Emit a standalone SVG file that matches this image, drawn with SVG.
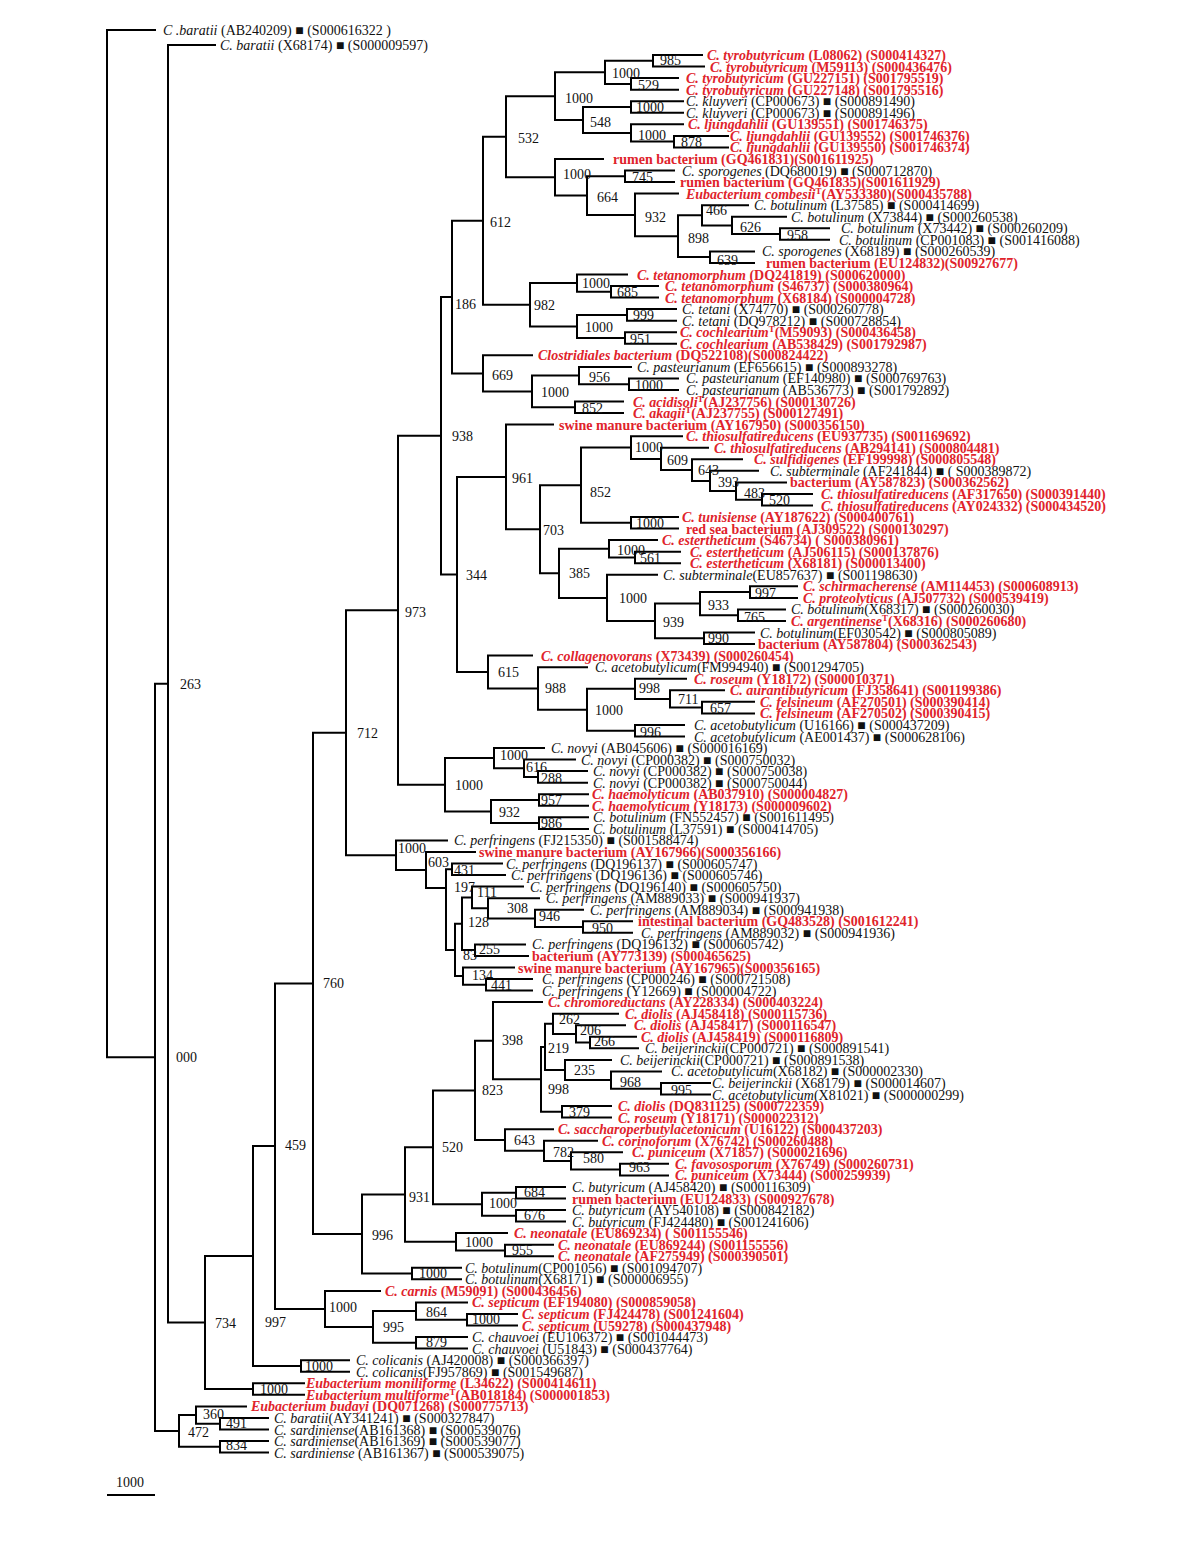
<svg xmlns="http://www.w3.org/2000/svg" width="1200" height="1553" viewBox="0 0 1200 1553">
<style>
text{font-family:"Liberation Serif","Times New Roman",serif;font-size:14px}
.k{fill:#111}
.r{fill:#e0232b;font-weight:bold}
.i{font-style:italic}
.s{font-size:9px}
.bs text{fill:#111}
</style>
<rect width="1200" height="1553" fill="#fff"/>
<g id="connectors" fill="none" stroke="#000" stroke-width="2" stroke-linecap="square">
<path d="M107,30V1057.3M107,30H155M107,1057.3H155"/>
<path d="M155,683.8V1430.9M155,683.8H168M155,1430.9H179"/>
<path d="M168,45V1322.5M168,45H215M168,1322.5H205"/>
<path d="M205,1256V1389M205,1256H253M205,1389H253"/>
<path d="M253,1146.1V1365.9M253,1146.1H275M253,1365.9H301"/>
<path d="M253,1383.3V1394.8M253,1383.3H304M253,1394.8H304"/>
<path d="M301,1360.2V1371.7M301,1360.2H349M301,1371.7H349"/>
<path d="M275,983.4V1308.9M275,983.4H313M275,1308.9H325"/>
<path d="M325,1290.9V1326.9M325,1290.9H380M325,1326.9H373"/>
<path d="M373,1311.1V1342.8M373,1311.1H416M373,1342.8H416"/>
<path d="M416,1302.4V1319.7M416,1302.4H467M416,1319.7H467"/>
<path d="M467,1314V1325.5M467,1314H517M467,1325.5H517"/>
<path d="M416,1337.1V1348.6M416,1337.1H467M416,1348.6H467"/>
<path d="M313,732.7V1234M313,732.7H346M313,1234H362"/>
<path d="M362,1194.5V1273.5M362,1194.5H405M362,1273.5H412"/>
<path d="M412,1267.8V1279.3M412,1267.8H461M412,1279.3H461"/>
<path d="M405,1147.3V1241.8M405,1147.3H433M405,1241.8H456"/>
<path d="M456,1233.1V1250.4M456,1233.1H507M456,1250.4H505"/>
<path d="M505,1244.7V1256.2M505,1244.7H553M505,1256.2H553"/>
<path d="M433,1090.4V1204.2M433,1090.4H475M433,1204.2H482"/>
<path d="M482,1192.7V1215.8M482,1192.7H516M482,1215.8H516"/>
<path d="M516,1186.9V1198.5M516,1186.9H565M516,1198.5H565"/>
<path d="M516,1210V1221.6M516,1210H565M516,1221.6H565"/>
<path d="M475,1040.7V1140M475,1040.7H493M475,1140H505"/>
<path d="M493,1002.1V1079.3M493,1002.1H542M493,1079.3H541"/>
<path d="M541,1046.9V1111.8M541,1046.9H545M541,1111.8H562"/>
<path d="M545,1023.8V1070M545,1023.8H553M545,1070H565"/>
<path d="M553,1013.7V1033.9M553,1013.7H618M553,1033.9H576"/>
<path d="M576,1025.2V1042.5M576,1025.2H625M576,1042.5H590"/>
<path d="M590,1036.8V1048.3M590,1036.8H636M590,1048.3H638"/>
<path d="M565,1059.9V1080.1M565,1059.9H611M565,1080.1H611"/>
<path d="M611,1071.4V1088.7M611,1071.4H661M611,1088.7H661"/>
<path d="M661,1083V1094.5M661,1083H710M661,1094.5H710"/>
<path d="M562,1106.1V1117.6M562,1106.1H611M562,1117.6H611"/>
<path d="M505,1129.2V1150.8M505,1129.2H553M505,1150.8H544"/>
<path d="M544,1140.7V1160.9M544,1140.7H597M544,1160.9H571"/>
<path d="M571,1152.3V1169.6M571,1152.3H622M571,1169.6H620"/>
<path d="M620,1163.8V1175.4M620,1163.8H668M620,1175.4H668"/>
<path d="M346,610.3V855.2M346,610.3H398M346,855.2H396"/>
<path d="M396,840.4V870M396,840.4H447M396,870H426"/>
<path d="M426,852V888M426,852H475M426,888H446"/>
<path d="M446,869.3V950M446,869.3H452M446,950H455"/>
<path d="M452,863.5V875.1M452,863.5H502M452,875.1H505"/>
<path d="M455,923.8V976.1M455,923.8H462M455,976.1H463"/>
<path d="M462,897.4V950.1M462,897.4H472M462,950.1H475"/>
<path d="M472,886.6V908.3M472,886.6H523M472,908.3H488"/>
<path d="M488,898.2V918.4M488,898.2H539M488,918.4H535"/>
<path d="M535,909.7V927M535,909.7H583M535,927H583"/>
<path d="M583,921.3V932.8M583,921.3H632M583,932.8H632"/>
<path d="M475,944.4V955.9M475,944.4H525M475,955.9H528"/>
<path d="M463,967.5V984.8M463,967.5H514M463,984.8H486"/>
<path d="M486,979V990.6M486,979H532M486,990.6H532"/>
<path d="M398,435.8V784.8M398,435.8H441M398,784.8H445"/>
<path d="M445,758.1V811.5M445,758.1H494M445,811.5H491"/>
<path d="M494,748V768.2M494,748H544M494,768.2H524"/>
<path d="M524,759.6V776.9M524,759.6H575M524,776.9H538"/>
<path d="M538,771.1V782.7M538,771.1H587M538,782.7H587"/>
<path d="M491,800V823.1M491,800H539M491,823.1H539"/>
<path d="M539,794.2V805.8M539,794.2H588M539,805.8H588"/>
<path d="M539,817.3V828.9M539,817.3H588M539,828.9H588"/>
<path d="M441,297V574.5M441,297H452M441,574.5H457"/>
<path d="M452,220.7V373.4M452,220.7H483M452,373.4H483"/>
<path d="M483,136.7V304.8M483,136.7H506M483,304.8H530"/>
<path d="M506,96.2V177.3M506,96.2H555M506,177.3H555"/>
<path d="M555,72.3V120M555,72.3H605M555,120H583"/>
<path d="M605,60.8V83.9M605,60.8H653M605,83.9H631"/>
<path d="M653,55V66.6M653,55H702M653,66.6H704"/>
<path d="M631,78.1V89.7M631,78.1H678M631,89.7H678"/>
<path d="M583,107V133M583,107H631M583,133H631"/>
<path d="M631,101.2V112.8M631,101.2H683M631,112.8H683"/>
<path d="M631,124.3V141.6M631,124.3H683M631,141.6H674"/>
<path d="M674,135.9V147.4M674,135.9H728M674,147.4H728"/>
<path d="M555,159V195.6M555,159H603M555,195.6H587"/>
<path d="M587,176.3V214.9M587,176.3H625M587,214.9H635"/>
<path d="M625,170.5V182.1M625,170.5H674M625,182.1H674"/>
<path d="M635,193.6V236.2M635,193.6H678M635,236.2H678"/>
<path d="M678,215.3V257.1M678,215.3H702M678,257.1H710"/>
<path d="M702,205.2V225.4M702,205.2H748M702,225.4H732"/>
<path d="M732,216.7V234M732,216.7H786M732,234H780"/>
<path d="M780,228.3V239.8M780,228.3H829M780,239.8H829"/>
<path d="M710,251.4V262.9M710,251.4H754M710,262.9H754"/>
<path d="M530,283.1V326.4M530,283.1H577M530,326.4H577"/>
<path d="M577,274.5V291.8M577,274.5H627M577,291.8H611"/>
<path d="M611,286V297.6M611,286H658M611,297.6H658"/>
<path d="M577,314.9V338M577,314.9H627M577,338H625"/>
<path d="M627,309.1V320.7M627,309.1H676M627,320.7H676"/>
<path d="M625,332.2V343.8M625,332.2H676M625,343.8H676"/>
<path d="M483,355.3V391.4M483,355.3H532M483,391.4H532"/>
<path d="M532,375.5V407.3M532,375.5H579M532,407.3H575"/>
<path d="M579,366.9V384.2M579,366.9H631M579,384.2H629"/>
<path d="M629,378.4V390M629,378.4H678M629,390H678"/>
<path d="M575,401.5V413.1M575,401.5H623M575,413.1H623"/>
<path d="M457,476.9V672M457,476.9H506M457,672H488"/>
<path d="M506,424.6V529.2M506,424.6H553M506,529.2H540"/>
<path d="M540,485.2V573.3M540,485.2H581M540,573.3H559"/>
<path d="M581,447.5V522.8M581,447.5H631M581,522.8H631"/>
<path d="M631,436.2V458.9M631,436.2H682M631,458.9H661"/>
<path d="M661,447.7V470.1M661,447.7H708M661,470.1H692"/>
<path d="M692,459.3V480.9M692,459.3H742M692,480.9H710"/>
<path d="M710,470.8V491M710,470.8H758M710,491H736"/>
<path d="M736,482.4V499.7M736,482.4H786M736,499.7H762"/>
<path d="M762,493.9V505.5M762,493.9H812M762,505.5H812"/>
<path d="M631,517V528.6M631,517H678M631,528.6H678"/>
<path d="M559,548.8V597.9M559,548.8H609M559,597.9H607"/>
<path d="M609,540.1V557.4M609,540.1H657M609,557.4H635"/>
<path d="M635,551.7V563.2M635,551.7H680M635,563.2H680"/>
<path d="M607,574.8V621M607,574.8H657M607,621H655"/>
<path d="M655,603.6V638.3M655,603.6H700M655,638.3H704"/>
<path d="M700,592.1V615.2M700,592.1H750M700,615.2H738"/>
<path d="M750,586.3V597.9M750,586.3H797M750,597.9H797"/>
<path d="M738,609.4V621M738,609.4H785M738,621H785"/>
<path d="M704,632.5V644.1M704,632.5H754M704,644.1H754"/>
<path d="M488,655.6V688.4M488,655.6H532M488,688.4H538"/>
<path d="M538,667.2V709.7M538,667.2H587M538,709.7H587"/>
<path d="M587,688.8V730.7M587,688.8H635M587,730.7H635"/>
<path d="M635,678.7V698.9M635,678.7H686M635,698.9H670"/>
<path d="M670,690.3V707.6M670,690.3H724M670,707.6H702"/>
<path d="M702,701.8V713.4M702,701.8H754M702,713.4H754"/>
<path d="M635,724.9V736.5M635,724.9H684M635,736.5H684"/>
<path d="M179,1415V1446.8M179,1415H196M179,1446.8H220"/>
<path d="M196,1406.4V1423.7M196,1406.4H246M196,1423.7H220"/>
<path d="M220,1417.9V1429.5M220,1417.9H268M220,1429.5H268"/>
<path d="M220,1441V1452.6M220,1441H268M220,1452.6H268"/>
</g>
<g id="support-values" class="bs">
<text x="180" y="689">263</text><text x="176" y="1062">000</text><text x="215" y="1328">734</text><text x="265" y="1327">997</text>
<text x="260" y="1394">1000</text><text x="305" y="1371">1000</text><text x="329" y="1312">1000</text><text x="383" y="1332">995</text>
<text x="426" y="1317">864</text><text x="472" y="1324">1000</text><text x="426" y="1347">879</text><text x="188" y="1437">472</text>
<text x="203" y="1419">360</text><text x="226" y="1428">491</text><text x="226" y="1450">834</text><text x="285" y="1150">459</text>
<text x="323" y="988">760</text><text x="372" y="1240">996</text><text x="419" y="1278">1000</text><text x="409" y="1202">931</text>
<text x="442" y="1152">520</text><text x="489" y="1208">1000</text><text x="524" y="1197">684</text><text x="524" y="1220">676</text>
<text x="465" y="1247">1000</text><text x="512" y="1255">955</text><text x="482" y="1095">823</text><text x="502" y="1045">398</text>
<text x="548" y="1094">998</text><text x="548" y="1053">219</text><text x="559" y="1024">262</text><text x="580" y="1035">206</text>
<text x="594" y="1046">266</text><text x="574" y="1075">235</text><text x="620" y="1087">968</text><text x="671" y="1095">995</text>
<text x="569" y="1117">379</text><text x="514" y="1145">643</text><text x="553" y="1157">782</text><text x="583" y="1163">580</text>
<text x="629" y="1172">963</text><text x="357" y="738">712</text><text x="398" y="853">1000</text><text x="428" y="867">603</text>
<text x="454" y="875">431</text><text x="454" y="892">197</text><text x="477" y="897">111</text><text x="507" y="913">308</text>
<text x="539" y="921">946</text><text x="468" y="927">128</text><text x="592" y="933">950</text><text x="479" y="954">255</text>
<text x="463" y="960">83</text><text x="472" y="980">134</text><text x="491" y="990">441</text><text x="405" y="617">973</text>
<text x="455" y="790">1000</text><text x="500" y="760">1000</text><text x="526" y="772">616</text><text x="541" y="783">288</text>
<text x="499" y="817">932</text><text x="541" y="805">957</text><text x="541" y="828">986</text><text x="452" y="441">938</text>
<text x="455" y="309">186</text><text x="490" y="227">612</text><text x="518" y="143">532</text><text x="565" y="103">1000</text>
<text x="612" y="78">1000</text><text x="660" y="65">985</text><text x="638" y="90">529</text><text x="590" y="127">548</text>
<text x="636" y="112">1000</text><text x="638" y="140">1000</text><text x="681" y="147">878</text><text x="563" y="179">1000</text>
<text x="597" y="202">664</text><text x="632" y="182">745</text><text x="645" y="222">932</text><text x="688" y="243">898</text>
<text x="706" y="215">466</text><text x="740" y="232">626</text><text x="787" y="240">958</text><text x="717" y="265">639</text>
<text x="534" y="310">982</text><text x="582" y="288">1000</text><text x="617" y="297">685</text><text x="585" y="332">1000</text>
<text x="633" y="320">999</text><text x="630" y="344">951</text><text x="492" y="380">669</text><text x="541" y="397">1000</text>
<text x="589" y="382">956</text><text x="635" y="390">1000</text><text x="582" y="413">852</text><text x="466" y="580">344</text>
<text x="512" y="483">961</text><text x="543" y="535">703</text><text x="590" y="497">852</text><text x="635" y="452">1000</text>
<text x="667" y="465">609</text><text x="698" y="475">643</text><text x="718" y="487">393</text><text x="744" y="498">483</text>
<text x="769" y="505">520</text><text x="636" y="528">1000</text><text x="569" y="578">385</text><text x="617" y="555">1000</text>
<text x="640" y="563">561</text><text x="619" y="603">1000</text><text x="663" y="627">939</text><text x="708" y="610">933</text>
<text x="755" y="598">997</text><text x="744" y="622">765</text><text x="708" y="643">990</text><text x="498" y="677">615</text>
<text x="545" y="693">988</text><text x="595" y="715">1000</text><text x="639" y="693">998</text><text x="678" y="704">711</text>
<text x="710" y="713">657</text><text x="640" y="737">996</text>
</g>
<g id="leaves">
<g id="leaf-1"><text class="k" x="163" y="35"><tspan class="i">C .baratii</tspan> (AB240209) ■ (S000616322 )</text></g>
<g id="leaf-2"><text class="k" x="220" y="50"><tspan class="i">C. baratii</tspan> (X68174) ■ (S000009597)</text></g>
<g id="leaf-3"><text class="r" x="707" y="60"><tspan class="i">C. tyrobutyricum</tspan> (L08062) (S000414327)</text></g>
<g id="leaf-4"><text class="r" x="710" y="71.6"><tspan class="i">C. tyrobutyricum</tspan>  (M59113) (S000436476)</text></g>
<g id="leaf-5"><text class="r" x="686" y="83.1"><tspan class="i">C. tyrobutyricum</tspan> (GU227151) (S001795519)</text></g>
<g id="leaf-6"><text class="r" x="686" y="94.7"><tspan class="i">C. tyrobutyricum</tspan> (GU227148) (S001795516)</text></g>
<g id="leaf-7"><text class="k" x="686" y="106.2"><tspan class="i">C. kluyveri</tspan> (CP000673) ■ (S000891490)</text></g>
<g id="leaf-8"><text class="k" x="686" y="117.8"><tspan class="i">C. kluyveri</tspan> (CP000673) ■ (S000891496)</text></g>
<g id="leaf-9"><text class="r" x="688" y="129.3"><tspan class="i">C. ljungdahlii</tspan> (GU139551) (S001746375)</text></g>
<g id="leaf-10"><text class="r" x="730" y="140.9"><tspan class="i">C. ljungdahlii</tspan> (GU139552) (S001746376)</text></g>
<g id="leaf-11"><text class="r" x="730" y="152.4"><tspan class="i">C. ljungdahlii</tspan> (GU139550) (S001746374)</text></g>
<g id="leaf-12"><text class="r" x="613" y="164">rumen bacterium (GQ461831)(S001611925)</text></g>
<g id="leaf-13"><text class="k" x="682" y="175.5"><tspan class="i">C. sporogenes</tspan> (DQ680019) ■ (S000712870)</text></g>
<g id="leaf-14"><text class="r" x="680" y="187.1">rumen bacterium (GQ461835)(S001611929)</text></g>
<g id="leaf-15"><text class="r" x="686" y="198.6"><tspan class="i">Eubacterium combesii</tspan><tspan class="s" dy="-5">T</tspan><tspan dy="5">(AY533380)(S000435788)</tspan></text></g>
<g id="leaf-16"><text class="k" x="754" y="210.2"><tspan class="i">C. botulinum</tspan> (L37585) ■ (S000414699)</text></g>
<g id="leaf-17"><text class="k" x="791" y="221.7"><tspan class="i">C. botulinum</tspan> (X73844) ■ (S000260538)</text></g>
<g id="leaf-18"><text class="k" x="841" y="233.3"><tspan class="i">C. botulinum</tspan> (X73442) ■ (S000260209)</text></g>
<g id="leaf-19"><text class="k" x="839" y="244.8"><tspan class="i">C. botulinum</tspan> (CP001083) ■ (S001416088)</text></g>
<g id="leaf-20"><text class="k" x="762" y="256.4"><tspan class="i">C. sporogenes</tspan> (X68189) ■ (S000260539)</text></g>
<g id="leaf-21"><text class="r" x="766" y="267.9">rumen bacterium (EU124832)(S00927677)</text></g>
<g id="leaf-22"><text class="r" x="637" y="279.5"><tspan class="i">C. tetanomorphum</tspan> (DQ241819) (S000620000)</text></g>
<g id="leaf-23"><text class="r" x="665" y="291"><tspan class="i">C. tetanomorphum</tspan> (S46737) (S000380964)</text></g>
<g id="leaf-24"><text class="r" x="665" y="302.6"><tspan class="i">C. tetanomorphum</tspan> (X68184) (S000004728)</text></g>
<g id="leaf-25"><text class="k" x="682" y="314.1"><tspan class="i">C. tetani</tspan> (X74770) ■ (S000260778)</text></g>
<g id="leaf-26"><text class="k" x="682" y="325.7"><tspan class="i">C. tetani</tspan> (DQ978212) ■ (S000728854)</text></g>
<g id="leaf-27"><text class="r" x="680" y="337.2"><tspan class="i">C. cochlearium</tspan><tspan class="s" dy="-5">T</tspan><tspan dy="5">(M59093) (S000436458)</tspan></text></g>
<g id="leaf-28"><text class="r" x="680" y="348.8"><tspan class="i">C. cochlearium</tspan> (AB538429) (S001792987)</text></g>
<g id="leaf-29"><text class="r" x="538" y="360.3"><tspan class="i">Clostridiales bacterium</tspan> (DQ522108)(S000824422)</text></g>
<g id="leaf-30"><text class="k" x="637" y="371.9"><tspan class="i">C. pasteurianum</tspan> (EF656615) ■ (S000893278)</text></g>
<g id="leaf-31"><text class="k" x="686" y="383.4"><tspan class="i">C. pasteurianum</tspan> (EF140980) ■ (S000769763)</text></g>
<g id="leaf-32"><text class="k" x="686" y="395"><tspan class="i">C. pasteurianum</tspan> (AB536773) ■ (S001792892)</text></g>
<g id="leaf-33"><text class="r" x="633" y="406.5"><tspan class="i">C. acidisoli</tspan><tspan class="s" dy="-5">T</tspan><tspan dy="5">(AJ237756) (S000130726)</tspan></text></g>
<g id="leaf-34"><text class="r" x="633" y="418.1"><tspan class="i">C. akagii</tspan><tspan class="s" dy="-5">T</tspan><tspan dy="5">(AJ237755) (S000127491)</tspan></text></g>
<g id="leaf-35"><text class="r" x="559" y="429.6">swine manure bacterium (AY167950) (S000356150)</text></g>
<g id="leaf-36"><text class="r" x="686" y="441.2"><tspan class="i">C. thiosulfatireducens</tspan> (EU937735) (S001169692)</text></g>
<g id="leaf-37"><text class="r" x="714" y="452.7"><tspan class="i">C. thiosulfatireducens</tspan> (AB294141) (S000804481)</text></g>
<g id="leaf-38"><text class="r" x="754" y="464.3"><tspan class="i">C. sulfidigenes</tspan> (EF199998) (S000805548)</text></g>
<g id="leaf-39"><text class="k" x="770" y="475.8"><tspan class="i">C. subterminale</tspan> (AF241844) ■ ( S000389872)</text></g>
<g id="leaf-40"><text class="r" x="790" y="487.4">bacterium (AY587823) (S000362562)</text></g>
<g id="leaf-41"><text class="r" x="821" y="498.9"><tspan class="i">C. thiosulfatireducens</tspan> (AF317650) (S000391440)</text></g>
<g id="leaf-42"><text class="r" x="821" y="510.5"><tspan class="i">C. thiosulfatireducens</tspan>  (AY024332) (S000434520)</text></g>
<g id="leaf-43"><text class="r" x="682" y="522"><tspan class="i">C. tunisiense</tspan> (AY187622) (S000400761)</text></g>
<g id="leaf-44"><text class="r" x="686" y="533.6">red sea bacterium (AJ309522) (S000130297)</text></g>
<g id="leaf-45"><text class="r" x="662" y="545.1"><tspan class="i">C. estertheticum</tspan> (S46734) ( S000380961)</text></g>
<g id="leaf-46"><text class="r" x="690" y="556.7"><tspan class="i">C. estertheticum</tspan>  (AJ506115) (S000137876)</text></g>
<g id="leaf-47"><text class="r" x="690" y="568.2"><tspan class="i">C. estertheticum</tspan> (X68181) (S000013400)</text></g>
<g id="leaf-48"><text class="k" x="663" y="579.8"><tspan class="i">C. subterminale</tspan>(EU857637) ■ (S001198630)</text></g>
<g id="leaf-49"><text class="r" x="803" y="591.3"><tspan class="i">C. schirmacherense</tspan>  (AM114453) (S000608913)</text></g>
<g id="leaf-50"><text class="r" x="803" y="602.9"><tspan class="i">C. proteolyticus</tspan> (AJ507732) (S000539419)</text></g>
<g id="leaf-51"><text class="k" x="791" y="614.4"><tspan class="i">C. botulinum</tspan>(X68317) ■ (S000260030)</text></g>
<g id="leaf-52"><text class="r" x="791" y="626"><tspan class="i">C. argentinense</tspan><tspan class="s" dy="-5">T</tspan><tspan dy="5">(X68316) (S000260680)</tspan></text></g>
<g id="leaf-53"><text class="k" x="760" y="637.5"><tspan class="i">C. botulinum</tspan>(EF030542) ■ (S000805089)</text></g>
<g id="leaf-54"><text class="r" x="758" y="649.1">bacterium (AY587804) (S000362543)</text></g>
<g id="leaf-55"><text class="r" x="541" y="660.6"><tspan class="i">C. collagenovorans</tspan> (X73439) (S000260454)</text></g>
<g id="leaf-56"><text class="k" x="595" y="672.2"><tspan class="i">C. acetobutylicum</tspan>(FM994940) ■ (S001294705)</text></g>
<g id="leaf-57"><text class="r" x="694" y="683.7"><tspan class="i">C. roseum</tspan> (Y18172) (S000010371)</text></g>
<g id="leaf-58"><text class="r" x="730" y="695.3"><tspan class="i">C. aurantibutyricum</tspan> (FJ358641) (S001199386)</text></g>
<g id="leaf-59"><text class="r" x="760" y="706.8"><tspan class="i">C. felsineum</tspan> (AF270501) (S000390414)</text></g>
<g id="leaf-60"><text class="r" x="760" y="718.4"><tspan class="i">C. felsineum</tspan> (AF270502) (S000390415)</text></g>
<g id="leaf-61"><text class="k" x="694" y="729.9"><tspan class="i">C. acetobutylicum</tspan> (U16166) ■ (S000437209)</text></g>
<g id="leaf-62"><text class="k" x="694" y="741.5"><tspan class="i">C. acetobutylicum</tspan> (AE001437) ■ (S000628106)</text></g>
<g id="leaf-63"><text class="k" x="551" y="753"><tspan class="i">C. novyi</tspan> (AB045606) ■ (S000016169)</text></g>
<g id="leaf-64"><text class="k" x="581" y="764.6"><tspan class="i">C. novyi</tspan> (CP000382) ■ (S000750032)</text></g>
<g id="leaf-65"><text class="k" x="593" y="776.1"><tspan class="i">C. novyi</tspan> (CP000382) ■ (S000750038)</text></g>
<g id="leaf-66"><text class="k" x="593" y="787.7"><tspan class="i">C. novyi</tspan> (CP000382) ■ (S000750044)</text></g>
<g id="leaf-67"><text class="r" x="592" y="799.2"><tspan class="i">C. haemolyticum</tspan> (AB037910) (S000004827)</text></g>
<g id="leaf-68"><text class="r" x="592" y="810.8"><tspan class="i">C. haemolyticum</tspan> (Y18173) (S000009602)</text></g>
<g id="leaf-69"><text class="k" x="593" y="822.3"><tspan class="i">C. botulinum</tspan> (FN552457) ■ (S001611495)</text></g>
<g id="leaf-70"><text class="k" x="593" y="833.9"><tspan class="i">C. botulinum</tspan> (L37591) ■ (S000414705)</text></g>
<g id="leaf-71"><text class="k" x="454" y="845.4"><tspan class="i">C. perfringens</tspan> (FJ215350) ■ (S001588474)</text></g>
<g id="leaf-72"><text class="r" x="479" y="857">swine manure bacterium (AY167966)(S000356166)</text></g>
<g id="leaf-73"><text class="k" x="506" y="868.5"><tspan class="i">C. perfringens</tspan> (DQ196137) ■ (S000605747)</text></g>
<g id="leaf-74"><text class="k" x="511" y="880.1"><tspan class="i">C. perfringens</tspan> (DQ196136) ■ (S000605746)</text></g>
<g id="leaf-75"><text class="k" x="530" y="891.6"><tspan class="i">C. perfringens</tspan> (DQ196140) ■ (S000605750)</text></g>
<g id="leaf-76"><text class="k" x="546" y="903.2"><tspan class="i">C. perfringens</tspan> (AM889033) ■ (S000941937)</text></g>
<g id="leaf-77"><text class="k" x="590" y="914.7"><tspan class="i">C. perfringens</tspan> (AM889034) ■ (S000941938)</text></g>
<g id="leaf-78"><text class="r" x="638" y="926.3">intestinal bacterium (GQ483528) (S001612241)</text></g>
<g id="leaf-79"><text class="k" x="641" y="937.8"><tspan class="i">C. perfringens</tspan> (AM889032) ■ (S000941936)</text></g>
<g id="leaf-80"><text class="k" x="532" y="949.4"><tspan class="i">C. perfringens</tspan> (DQ196132) ■ (S000605742)</text></g>
<g id="leaf-81"><text class="r" x="532" y="960.9">bacterium (AY773139) (S000465625)</text></g>
<g id="leaf-82"><text class="r" x="518" y="972.5">swine manure bacterium (AY167965)(S000356165)</text></g>
<g id="leaf-83"><text class="k" x="542" y="984"><tspan class="i">C. perfringens</tspan> (CP000246) ■ (S000721508)</text></g>
<g id="leaf-84"><text class="k" x="542" y="995.6"><tspan class="i">C. perfringens</tspan> (Y12669) ■ (S000004722)</text></g>
<g id="leaf-85"><text class="r" x="548" y="1007.1"><tspan class="i">C. chromoreductans</tspan> (AY228334) (S000403224)</text></g>
<g id="leaf-86"><text class="r" x="625" y="1018.7"><tspan class="i">C. diolis</tspan>  (AJ458418) (S000115736)</text></g>
<g id="leaf-87"><text class="r" x="634" y="1030.2"><tspan class="i">C. diolis</tspan> (AJ458417) (S000116547)</text></g>
<g id="leaf-88"><text class="r" x="641" y="1041.8"><tspan class="i">C. diolis</tspan> (AJ458419) (S000116809)</text></g>
<g id="leaf-89"><text class="k" x="645" y="1053.3"><tspan class="i">C. beijerinckii</tspan>(CP000721) ■ (S000891541)</text></g>
<g id="leaf-90"><text class="k" x="620" y="1064.9"><tspan class="i">C. beijerinckii</tspan>(CP000721) ■ (S000891538)</text></g>
<g id="leaf-91"><text class="k" x="671" y="1076.4"><tspan class="i">C. acetobutylicum</tspan>(X68182) ■ (S000002330)</text></g>
<g id="leaf-92"><text class="k" x="712" y="1088"><tspan class="i">C. beijerinckii</tspan> (X68179) ■ (S000014607)</text></g>
<g id="leaf-93"><text class="k" x="712" y="1099.5"><tspan class="i">C. acetobutylicum</tspan>(X81021) ■  (S000000299)</text></g>
<g id="leaf-94"><text class="r" x="618" y="1111.1"><tspan class="i">C. diolis</tspan> (DQ831125) (S000722359)</text></g>
<g id="leaf-95"><text class="r" x="618" y="1122.6"><tspan class="i">C. roseum</tspan>  (Y18171) (S000022312)</text></g>
<g id="leaf-96"><text class="r" x="558" y="1134.2"><tspan class="i">C. saccharoperbutylacetonicum</tspan>  (U16122) (S000437203)</text></g>
<g id="leaf-97"><text class="r" x="602" y="1145.7"><tspan class="i">C. corinoforum</tspan> (X76742) (S000260488)</text></g>
<g id="leaf-98"><text class="r" x="632" y="1157.3"><tspan class="i">C. puniceum</tspan>  (X71857) (S000021696)</text></g>
<g id="leaf-99"><text class="r" x="675" y="1168.8"><tspan class="i">C. favososporum</tspan> (X76749) (S000260731)</text></g>
<g id="leaf-100"><text class="r" x="675" y="1180.4"><tspan class="i">C. puniceum</tspan> (X73444) (S000259939)</text></g>
<g id="leaf-101"><text class="k" x="572" y="1191.9"><tspan class="i">C. butyricum</tspan>  (AJ458420) ■ (S000116309)</text></g>
<g id="leaf-102"><text class="r" x="572" y="1203.5">rumen bacterium (EU124833) (S000927678)</text></g>
<g id="leaf-103"><text class="k" x="572" y="1215"><tspan class="i">C. butyricum</tspan> (AY540108) ■ (S000842182)</text></g>
<g id="leaf-104"><text class="k" x="572" y="1226.6"><tspan class="i">C. butyricum</tspan> (FJ424480) ■ (S001241606)</text></g>
<g id="leaf-105"><text class="r" x="514" y="1238.1"><tspan class="i">C. neonatale</tspan> (EU869234) ( S001155546)</text></g>
<g id="leaf-106"><text class="r" x="558" y="1249.7"><tspan class="i">C. neonatale</tspan> (EU869244) (S001155556)</text></g>
<g id="leaf-107"><text class="r" x="558" y="1261.2"><tspan class="i">C. neonatale</tspan> (AF275949) (S000390501)</text></g>
<g id="leaf-108"><text class="k" x="465" y="1272.8"><tspan class="i">C. botulinum</tspan>(CP001056) ■ (S001094707)</text></g>
<g id="leaf-109"><text class="k" x="465" y="1284.3"><tspan class="i">C. botulinum</tspan>(X68171) ■ (S000006955)</text></g>
<g id="leaf-110"><text class="r" x="385" y="1295.9"><tspan class="i">C. carnis</tspan> (M59091) (S000436456)</text></g>
<g id="leaf-111"><text class="r" x="472" y="1307.4"><tspan class="i">C. septicum</tspan> (EF194080) (S000859058)</text></g>
<g id="leaf-112"><text class="r" x="522" y="1319"><tspan class="i">C. septicum</tspan> (FJ424478) (S001241604)</text></g>
<g id="leaf-113"><text class="r" x="522" y="1330.5"><tspan class="i">C. septicum</tspan>  (U59278) (S000437948)</text></g>
<g id="leaf-114"><text class="k" x="472" y="1342.1"><tspan class="i">C. chauvoei</tspan> (EU106372) ■ (S001044473)</text></g>
<g id="leaf-115"><text class="k" x="472" y="1353.6"><tspan class="i">C. chauvoei</tspan>  (U51843) ■ (S000437764)</text></g>
<g id="leaf-116"><text class="k" x="356" y="1365.2"><tspan class="i">C. colicanis</tspan> (AJ420008) ■ (S000366397)</text></g>
<g id="leaf-117"><text class="k" x="356" y="1376.7"><tspan class="i">C. colicanis</tspan>(FJ957869) ■ (S001549687)</text></g>
<g id="leaf-118"><text class="r" x="306" y="1388.3"><tspan class="i">Eubacterium moniliforme</tspan> (L34622) (S000414611)</text></g>
<g id="leaf-119"><text class="r" x="306" y="1399.8"><tspan class="i">Eubacterium multiforme</tspan><tspan class="s" dy="-5">T</tspan><tspan dy="5">(AB018184) (S000001853)</tspan></text></g>
<g id="leaf-120"><text class="r" x="251" y="1411.4"><tspan class="i">Eubacterium budayi</tspan> (DQ071268) (S000775713)</text></g>
<g id="leaf-121"><text class="k" x="274" y="1422.9"><tspan class="i">C. baratii</tspan>(AY341241) ■ (S000327847)</text></g>
<g id="leaf-122"><text class="k" x="274" y="1434.5"><tspan class="i">C. sardiniense</tspan>(AB161368) ■ (S000539076)</text></g>
<g id="leaf-123"><text class="k" x="274" y="1446"><tspan class="i">C. sardiniense</tspan>(AB161369) ■ (S000539077)</text></g>
<g id="leaf-124"><text class="k" x="274" y="1457.6"><tspan class="i">C. sardiniense</tspan> (AB161367) ■ (S000539075)</text></g>
</g>
<g id="scale-bar">
<path d="M107,1495H155" stroke="#000" stroke-width="2" fill="none"/>
<text class="k" x="116" y="1487">1000</text>
</g>
</svg>
